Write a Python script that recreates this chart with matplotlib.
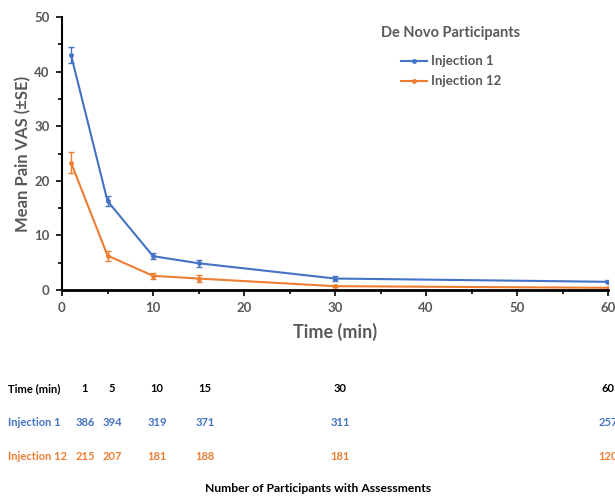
import numpy as np
import matplotlib.pyplot as plt
from matplotlib.ticker import MultipleLocator
from matplotlib.lines import Line2D

plt.rcParams['font.family'] = ['Lato', 'DejaVu Sans']

# data
time_min = [1, 5, 10, 15, 30, 60]
inj1_mean = [43.0, 16.3, 6.2, 4.9, 2.1, 1.5]
inj1_se = [1.5, 1.0, 0.6, 0.6, 0.4, 0.3]
inj12_mean = [23.3, 6.3, 2.6, 2.1, 0.7, 0.4]
inj12_se = [1.9, 0.9, 0.6, 0.6, 0.2, 0.2]

# participants with assessments
n_inj1 = [386, 394, 319, 371, 311, 257]
n_inj12 = [215, 207, 181, 188, 181, 120]

blue = '#4472C4'
orange = '#ED7D31'
grey = '#595959'

W, H = 615, 496
fig = plt.figure(figsize=(W / 100, H / 100), dpi=100)
ax = fig.add_axes([62 / W, 1 - 290 / H, 546 / W, 273 / H])

ax.errorbar(time_min, inj1_mean, yerr=inj1_se, color=blue, marker='o', ms=2.5,
            lw=1.5, capsize=2, elinewidth=1)
ax.errorbar(time_min, inj12_mean, yerr=inj12_se, color=orange, marker='o', ms=2.5,
            lw=1.5, capsize=2, elinewidth=1)

ax.set_xlim(0, 60)
ax.set_ylim(0, 50)
ax.xaxis.set_major_locator(MultipleLocator(10))
ax.xaxis.set_minor_locator(MultipleLocator(5))
ax.yaxis.set_major_locator(MultipleLocator(10))
ax.yaxis.set_minor_locator(MultipleLocator(5))
ax.tick_params(which='both', direction='out', color='black', width=1.2)
ax.tick_params(which='major', length=4, labelsize=9.5, labelcolor=grey, pad=5)
ax.tick_params(which='minor', length=3)
for lab in ax.get_xticklabels() + ax.get_yticklabels():
    lab.set_fontweight('bold')

for s in ['top', 'right']:
    ax.spines[s].set_visible(False)
ax.spines['left'].set_linewidth(1.5)
ax.spines['bottom'].set_linewidth(2)
ax.spines['bottom'].set_zorder(5)

ax.set_xlabel('Time (min)', fontsize=13, fontweight='bold', color=grey, labelpad=6)
ax.set_ylabel('Mean Pain VAS (\u00b1SE)', fontsize=12, fontweight='bold', color=grey, labelpad=2)

handles = [Line2D([], [], color=blue, marker='o', ms=2.5, lw=1.5),
           Line2D([], [], color=orange, marker='o', ms=2.5, lw=1.5)]
leg = ax.legend(handles, ['Injection 1', 'Injection 12'], loc='upper left',
                bbox_to_anchor=(0.563, 1.01), frameon=False,
                fontsize=9.5, handlelength=2.0, handletextpad=0.3, labelspacing=0.6,
                title='De Novo Participants',
                title_fontproperties={'weight': 'bold', 'size': 10.5})
leg.get_title().set_color(grey)
leg._legend_box.sep = 11
for t in leg.get_texts():
    t.set_color(grey)
    t.set_fontweight('bold')

# table of participant counts below the chart
col_x = [85, 112, 157, 205, 340, 608]
rows = [('Time (min)', time_min, 'black', 389),
        ('Injection 1', n_inj1, blue, 423),
        ('Injection 12', n_inj12, orange, 456)]
for name, vals, col, y in rows:
    fig.text(8 / W, 1 - y / H, name, ha='left', va='center', fontsize=8,
             fontweight='bold', color=col)
    for x, v in zip(col_x, vals):
        fig.text(x / W, 1 - y / H, str(v), ha='center', va='center', fontsize=8,
                 fontweight='bold', color=col)

fig.text(318 / W, 1 - 489 / H, 'Number of Participants with Assessments', ha='center',
         va='center', fontsize=8.7, fontweight='bold', color='black')

fig.savefig('out.png', dpi=100)
